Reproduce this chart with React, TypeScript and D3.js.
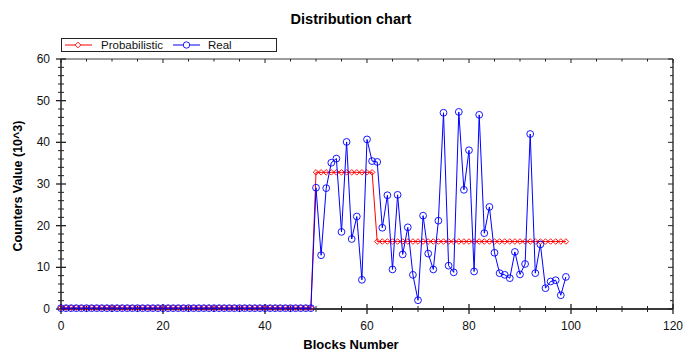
import * as d3 from "d3";

const blockNumbers: number[] = [
  0, 1, 2, 3, 4, 5, 6, 7, 8, 9, 10, 11, 12, 13, 14, 15, 16, 17, 18, 19,
  20, 21, 22, 23, 24, 25, 26, 27, 28, 29, 30, 31, 32, 33, 34, 35, 36, 37, 38, 39,
  40, 41, 42, 43, 44, 45, 46, 47, 48, 49, 50, 51, 52, 53, 54, 55, 56, 57, 58, 59,
  60, 61, 62, 63, 64, 65, 66, 67, 68, 69, 70, 71, 72, 73, 74, 75, 76, 77, 78, 79,
  80, 81, 82, 83, 84, 85, 86, 87, 88, 89, 90, 91, 92, 93, 94, 95, 96, 97, 98, 99,
];

const probabilistic: number[] = [
  0.3, 0.3, 0.3, 0.3, 0.3, 0.3, 0.3, 0.3, 0.3, 0.3, 0.3, 0.3, 0.3, 0.3, 0.3, 0.3, 0.3, 0.3, 0.3, 0.3,
  0.3, 0.3, 0.3, 0.3, 0.3, 0.3, 0.3, 0.3, 0.3, 0.3, 0.3, 0.3, 0.3, 0.3, 0.3, 0.3, 0.3, 0.3, 0.3, 0.3,
  0.3, 0.3, 0.3, 0.3, 0.3, 0.3, 0.3, 0.3, 0.3, 0.3, 32.8, 32.8, 32.8, 32.8, 32.8, 32.8, 32.8, 32.8, 32.8, 32.8,
  32.8, 32.8, 16.2, 16.2, 16.2, 16.2, 16.2, 16.2, 16.2, 16.2, 16.2, 16.2, 16.2, 16.2, 16.2, 16.2, 16.2, 16.2, 16.2, 16.2,
  16.2, 16.2, 16.2, 16.2, 16.2, 16.2, 16.2, 16.2, 16.2, 16.2, 16.2, 16.2, 16.2, 16.2, 16.2, 16.2, 16.2, 16.2, 16.2, 16.2,
];

const real: number[] = [
  0.2, 0.2, 0.2, 0.2, 0.2, 0.2, 0.2, 0.2, 0.2, 0.2, 0.2, 0.2, 0.2, 0.2, 0.2, 0.2, 0.2, 0.2, 0.2, 0.2,
  0.2, 0.2, 0.2, 0.2, 0.2, 0.2, 0.2, 0.2, 0.2, 0.2, 0.2, 0.2, 0.2, 0.2, 0.2, 0.2, 0.2, 0.2, 0.2, 0.2,
  0.2, 0.2, 0.2, 0.2, 0.2, 0.2, 0.2, 0.2, 0.2, 0.2, 29.1, 12.9, 29.0, 35.1, 36.1, 18.5, 40.1, 16.8, 22.2, 7.0,
  40.7, 35.5, 35.3, 19.5, 27.3, 9.5, 27.4, 13.1, 19.6, 8.2, 2.1, 22.4, 13.3, 9.5, 21.2, 47.1, 10.4, 8.8, 47.3, 28.6,
  38.1, 9.0, 46.6, 18.2, 24.5, 13.5, 8.6, 8.2, 7.4, 13.7, 8.3, 10.8, 42.0, 8.6, 15.5, 5.0, 6.6, 6.9, 3.3, 7.7,
];

const xMajorTicks = [0, 20, 40, 60, 80, 100, 120];
const yMajorTicks = [0, 10, 20, 30, 40, 50, 60];

const W = 683;
const H = 354;
const margin = { top: 59, right: 10, bottom: 45, left: 61 };
const font = "'Liberation Sans', Arial, sans-serif";

export default function App() {
  const x = d3.scaleLinear().domain([0, 120]).range([margin.left, W - margin.right]);
  const y = d3.scaleLinear().domain([0, 60]).range([H - margin.bottom, margin.top]);
  const x0 = x(0), x1 = x(120), y0 = y(0), y1 = y(60);

  // minor ticks: every 5 on x, every 2 on y
  const xMinor = d3.range(0, 121, 5).filter((v) => v % 20 !== 0);
  const yMinor = d3.range(0, 61, 2).filter((v) => v % 10 !== 0);

  const line = d3
    .line<number>()
    .x((_, i) => x(blockNumbers[i]))
    .y((d) => y(d));

  const diamond = (cx: number, cy: number, r: number) =>
    `M${cx},${cy - r}L${cx + r},${cy}L${cx},${cy + r}L${cx - r},${cy}Z`;

  const axisColor = "#3a3a3a";

  return (
    <svg
      width={W}
      height={H}
      style={{ position: "absolute", left: 0, top: 0, background: "#fff" }}
      fontFamily={font}
    >
      <text x={351} y={24} textAnchor="middle" fontWeight="bold" fontSize={14.5}>
        Distribution chart
      </text>

      {/* frame */}
      <line x1={x0} x2={x1} y1={y1} y2={y1} stroke={axisColor} strokeWidth={1} />
      <line x1={x1} x2={x1} y1={y1} y2={y0} stroke={axisColor} strokeWidth={1.5} />
      <line x1={x0} x2={x0} y1={y1} y2={y0} stroke="#222" strokeWidth={1.5} />
      <line x1={x0} x2={x1} y1={y0} y2={y0} stroke={axisColor} strokeWidth={2} />

      {/* x ticks bottom */}
      {xMajorTicks.map((v) => (
        <g key={"xm" + v}>
          <line x1={x(v)} x2={x(v)} y1={y0 - 5} y2={y0 + 5} stroke="#222" strokeWidth={1.3} />
          <line x1={x(v)} x2={x(v)} y1={y1} y2={y1 + 4} stroke="#222" />
          <text x={x(v)} y={y0 + 21} textAnchor="middle" fontSize={12} fill="#111">
            {v}
          </text>
        </g>
      ))}
      {xMinor.map((v) => (
        <g key={"xn" + v}>
          <line x1={x(v)} x2={x(v)} y1={y0 - 3} y2={y0 + 3} stroke="#222" />
          <line x1={x(v)} x2={x(v)} y1={y1} y2={y1 + 2.5} stroke="#222" />
        </g>
      ))}

      {/* y ticks */}
      {yMajorTicks.map((v) => (
        <g key={"ym" + v}>
          <line x1={x0 - 5} x2={x0 + 5} y1={y(v)} y2={y(v)} stroke="#222" strokeWidth={1.3} />
          <line x1={x1 - 5} x2={x1} y1={y(v)} y2={y(v)} stroke="#222" />
          <text x={x0 - 11} y={y(v) + 4} textAnchor="end" fontSize={12} fill="#111">
            {v}
          </text>
        </g>
      ))}
      {yMinor.map((v) => (
        <g key={"yn" + v}>
          <line x1={x0 - 3} x2={x0 + 3} y1={y(v)} y2={y(v)} stroke="#222" />
          <line x1={x1 - 3} x2={x1} y1={y(v)} y2={y(v)} stroke="#222" />
        </g>
      ))}

      {/* series */}
      <path d={line(probabilistic) ?? ""} fill="none" stroke="#ff0000" strokeWidth={1} />
      {probabilistic.map((v, i) => (
        <path
          key={"p" + i}
          d={diamond(x(blockNumbers[i]), y(v), 2.8)}
          fill="none"
          stroke="#ff0000"
          strokeWidth={0.9}
        />
      ))}
      <path d={line(real) ?? ""} fill="none" stroke="#0000ff" strokeWidth={1} />
      {real.map((v, i) => (
        <circle
          key={"r" + i}
          cx={x(blockNumbers[i])}
          cy={y(v)}
          r={3.4}
          fill="none"
          stroke="#0000ff"
          strokeWidth={0.9}
        />
      ))}

      {/* legend */}
      <rect x={61.5} y={38.5} width={215} height={13} fill="#fff" stroke="#222" strokeWidth={1} />
      <line x1={65} x2={92} y1={45} y2={45} stroke="#ff0000" />
      <path d={diamond(78, 45, 2.8)} fill="#fff" stroke="#ff0000" strokeWidth={0.9} />
      <text x={101} y={49} fontSize={11.5} fill="#111">
        Probabilistic
      </text>
      <line x1={173} x2={200} y1={45} y2={45} stroke="#0000ff" />
      <circle cx={186.5} cy={45} r={3.2} fill="#fff" stroke="#0000ff" strokeWidth={0.9} />
      <text x={208} y={49} fontSize={11.5} fill="#111">
        Real
      </text>

      {/* axis titles */}
      <text x={351} y={349} textAnchor="middle" fontWeight="bold" fontSize={13}>
        Blocks Number
      </text>
      <text
        transform={`translate(22,${(y0 + y1) / 2 + 2}) rotate(-90)`}
        textAnchor="middle"
        fontWeight="bold"
        fontSize={12.5}
      >
        Counters Value (10^3)
      </text>
    </svg>
  );
}
